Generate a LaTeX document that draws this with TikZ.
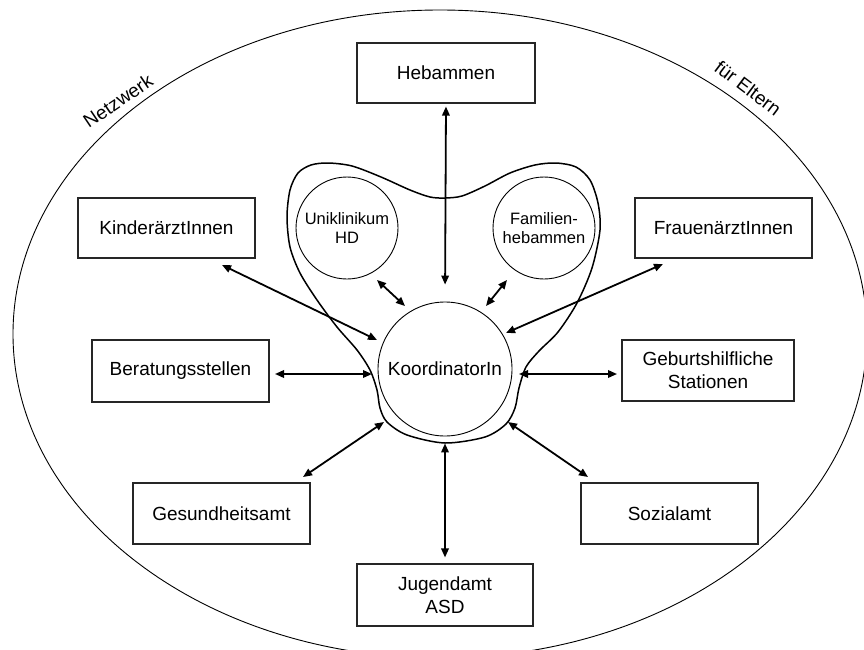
\documentclass[tikz,border=0pt]{standalone}
\usepackage{fontspec}
\setmainfont{Liberation Sans}
\usetikzlibrary{arrows.meta,calc}
\tikzset{
  box/.style={draw=black!85, line width=1.1pt, minimum width=177pt, minimum height=61pt,
    inner sep=0pt, align=center, font=\fontsize{19}{23}\selectfont},
  smallcirc/.style={circle, draw=black, line width=0.9pt, minimum size=102pt, inner sep=0pt,
    align=center, font=\fontsize{16.5}{19.5}\selectfont},
  bigcirc/.style={circle, draw=black, line width=0.9pt, minimum size=134pt, inner sep=0pt,
    font=\fontsize{19}{23}\selectfont},
  link/.style={line width=1.8pt, {Triangle[length=9pt,width=7.5pt]}-{Triangle[length=9pt,width=7.5pt]}},
  arclabel/.style={font=\fontsize{19}{23}\selectfont, inner sep=0pt}
}
\begin{document}
\begin{tikzpicture}[x=1pt,y=-1pt]
\useasboundingbox (0,0) rectangle (864,650);
% outer network ellipse
\draw[line width=0.9pt] (440,334) ellipse [x radius=427pt, y radius=324pt];
\node[arclabel, rotate=34] (netz) at (118,101) {Netzwerk};
\node[arclabel, rotate=-37] (eltern) at (748,88) {für Eltern};
% blob around the centre
\draw[line width=1.5pt] plot[smooth cycle, tension=0.5] coordinates {
  (445,198) (462,196) (485,186) (510,173) (535,165) (556,163) (576,167) (590,180)
  (598,203) (600,230) (592,268) (577,303) (558,332) (539,351) (526,367) (519,388)
  (515,408) (506,424) (485,437) (445,443) (407,435) (387,422) (380,408) (377,390)
  (370,370) (357,350) (337,327) (317,300) (300,273) (290,247) (287,217) (290,190)
  (298,173) (311,165) (328,163) (352,166) (381,177) (410,190) (430,197)};
% circles
\node[bigcirc] (koord) at (445,369) {KoordinatorIn};
\node[smallcirc] (uni) at (347,228) {Uniklinikum\\HD};
\node[smallcirc] (fam) at (544,228) {Familien-\\hebammen};
% boxes
\node[box, minimum width=178pt, minimum height=60pt] (heb) at (446,73) {Hebammen};
\node[box, minimum height=60pt] (kind) at (166.5,228) {KinderärztInnen};
\node[box, minimum height=60pt] (frau) at (723.5,228) {FrauenärztInnen};
\node[box, minimum height=62pt] (ber) at (180.5,371) {Beratungsstellen};
\node[box, minimum width=172pt] (geb) at (708,370.5) {Geburtshilfliche\\Stationen};
\node[box] (ges) at (221.5,513.5) {Gesundheitsamt};
\node[box] (soz) at (669.5,513.5) {Sozialamt};
\node[box, minimum width=176pt, minimum height=62pt] (jug) at (445,595) {Jugendamt\\ASD};
% arrow end points
\coordinate (u1) at (377,280); \coordinate (u2) at (405,306);
\coordinate (f1) at (507,280); \coordinate (f2) at (486,306);
\coordinate (k1) at (222,265); \coordinate (k2) at (377,340);
\coordinate (r1) at (663,264); \coordinate (r2) at (506,333);
\coordinate (b1) at (275,374); \coordinate (b2) at (372,374);
\coordinate (g1) at (617,374); \coordinate (g2) at (519,374);
\coordinate (s1) at (303,477); \coordinate (s2) at (384,422);
\coordinate (z1) at (588,477); \coordinate (z2) at (508,422);
% connectors
\draw[link, shorten <=3pt, shorten >=17pt] (heb.south) -- (koord.north);
\draw[link] (u1) -- (u2);
\draw[link] (f1) -- (f2);
\draw[link] (k1) -- (k2);
\draw[link] (r1) -- (r2);
\draw[link] (b1) -- (b2);
\draw[link] (g1) -- (g2);
\draw[link] (s1) -- (s2);
\draw[link] (z1) -- (z2);
\draw[link, shorten <=7pt, shorten >=6pt] (koord.south) -- (jug.north);
\end{tikzpicture}
\end{document}
